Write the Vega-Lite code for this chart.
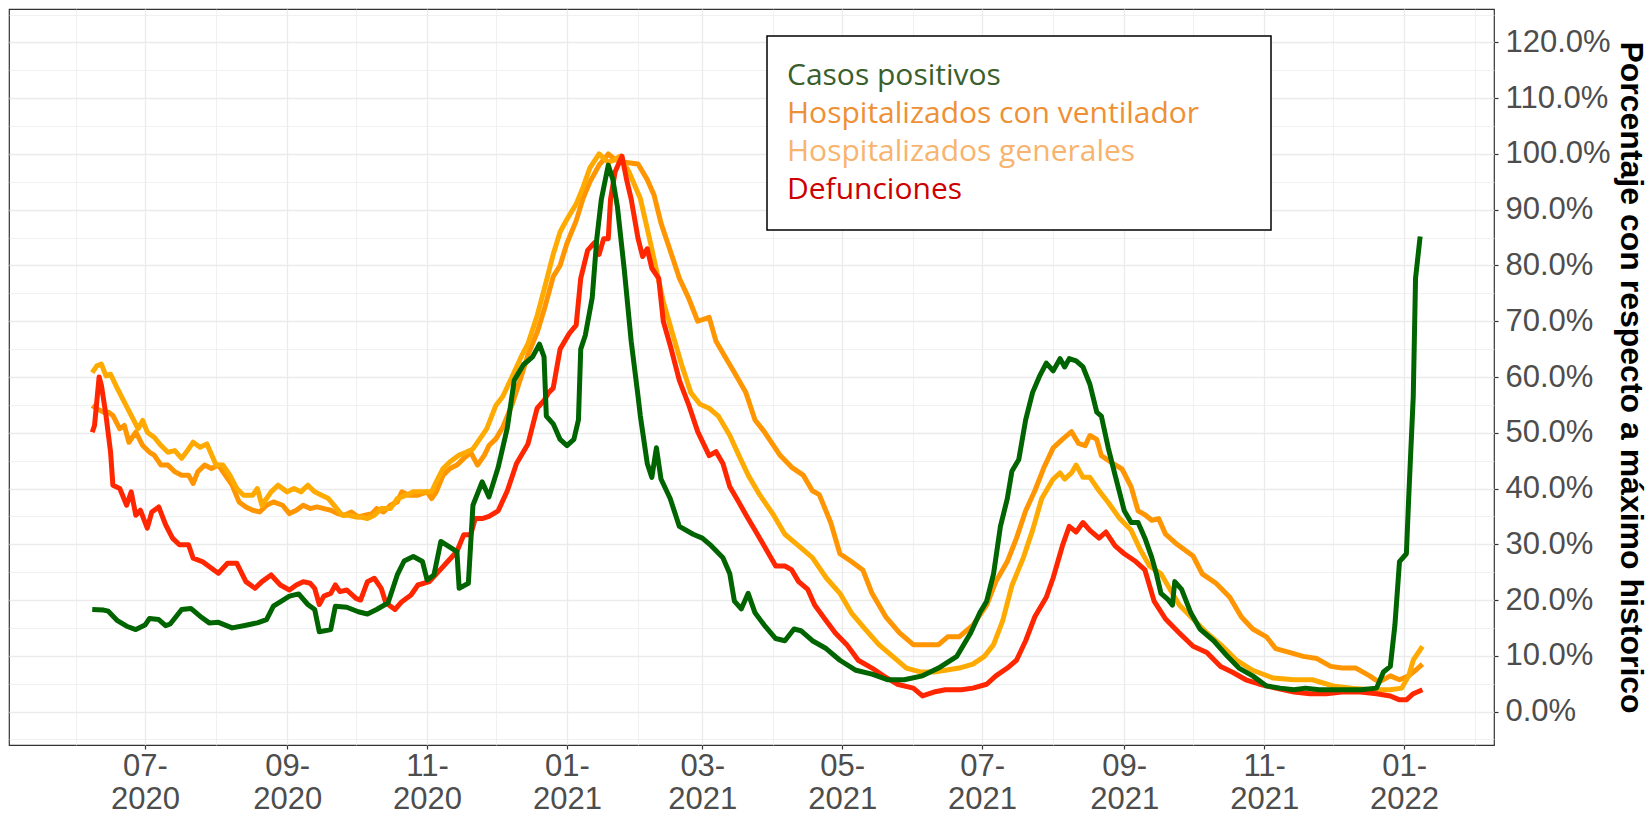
{
"$schema": "https://vega.github.io/schema/vega-lite/v6.json",
"width": 1485, "height": 736,
"autosize": {"type": "none"},
"padding": {"left": 9, "top": 9, "right": 155, "bottom": 73},
"background": "white",
"config": {"view": {"stroke": "#333333", "strokeWidth": 1.2}, "font": "Liberation Sans"},
"datasets": {
"V": [{"d":"2020-06-08","v":54.9},{"d":"2020-06-10","v":54.3},{"d":"2020-06-13","v":53.7},{"d":"2020-06-15","v":53.7},{"d":"2020-06-17","v":53.1},{"d":"2020-06-20","v":50.7},{"d":"2020-06-22","v":51.3},{"d":"2020-06-24","v":48.3},{"d":"2020-06-27","v":50.1},{"d":"2020-06-30","v":47.7},{"d":"2020-07-03","v":46.5},{"d":"2020-07-05","v":46.0},{"d":"2020-07-08","v":44.2},{"d":"2020-07-11","v":44.2},{"d":"2020-07-14","v":43.0},{"d":"2020-07-17","v":42.4},{"d":"2020-07-20","v":42.4},{"d":"2020-07-22","v":40.9},{"d":"2020-07-24","v":43.0},{"d":"2020-07-27","v":44.2},{"d":"2020-07-30","v":43.6},{"d":"2020-08-02","v":44.2},{"d":"2020-08-05","v":42.4},{"d":"2020-08-08","v":40.6},{"d":"2020-08-11","v":37.6},{"d":"2020-08-14","v":36.7},{"d":"2020-08-17","v":36.1},{"d":"2020-08-20","v":35.8},{"d":"2020-08-23","v":37.0},{"d":"2020-08-26","v":37.6},{"d":"2020-08-30","v":37.0},{"d":"2020-09-02","v":35.5},{"d":"2020-09-05","v":36.1},{"d":"2020-09-08","v":37.0},{"d":"2020-09-11","v":36.4},{"d":"2020-09-14","v":36.7},{"d":"2020-09-17","v":36.4},{"d":"2020-09-20","v":36.1},{"d":"2020-09-23","v":35.5},{"d":"2020-09-26","v":35.2},{"d":"2020-09-29","v":35.8},{"d":"2020-10-02","v":34.9},{"d":"2020-10-05","v":35.2},{"d":"2020-10-08","v":35.5},{"d":"2020-10-10","v":36.4},{"d":"2020-10-13","v":35.8},{"d":"2020-10-16","v":37.0},{"d":"2020-10-19","v":37.6},{"d":"2020-10-21","v":39.4},{"d":"2020-10-24","v":38.8},{"d":"2020-10-28","v":38.8},{"d":"2020-11-01","v":39.4},{"d":"2020-11-03","v":38.2},{"d":"2020-11-05","v":39.4},{"d":"2020-11-08","v":42.4},{"d":"2020-11-11","v":43.6},{"d":"2020-11-14","v":44.2},{"d":"2020-11-17","v":45.4},{"d":"2020-11-20","v":46.5},{"d":"2020-11-23","v":44.2},{"d":"2020-11-26","v":46.0},{"d":"2020-11-28","v":47.7},{"d":"2020-12-01","v":48.9},{"d":"2020-12-04","v":51.0},{"d":"2020-12-08","v":55.0},{"d":"2020-12-12","v":60.0},{"d":"2020-12-15","v":64.0},{"d":"2020-12-19","v":68.0},{"d":"2020-12-22","v":72.0},{"d":"2020-12-26","v":78.0},{"d":"2020-12-29","v":80.0},{"d":"2021-01-01","v":84.0},{"d":"2021-01-05","v":88.0},{"d":"2021-01-08","v":92.0},{"d":"2021-01-11","v":95.0},{"d":"2021-01-15","v":98.0},{"d":"2021-01-19","v":100.0},{"d":"2021-01-22","v":99.0},{"d":"2021-01-26","v":98.5},{"d":"2021-02-01","v":98.2},{"d":"2021-02-05","v":95.4},{"d":"2021-02-08","v":92.6},{"d":"2021-02-11","v":87.6},{"d":"2021-02-15","v":82.7},{"d":"2021-02-19","v":77.7},{"d":"2021-02-23","v":74.2},{"d":"2021-02-27","v":70.0},{"d":"2021-03-04","v":70.7},{"d":"2021-03-07","v":66.4},{"d":"2021-03-11","v":63.6},{"d":"2021-03-15","v":60.8},{"d":"2021-03-20","v":57.2},{"d":"2021-03-24","v":52.3},{"d":"2021-03-28","v":50.2},{"d":"2021-04-04","v":45.9},{"d":"2021-04-09","v":43.8},{"d":"2021-04-14","v":42.4},{"d":"2021-04-18","v":39.6},{"d":"2021-04-21","v":38.9},{"d":"2021-04-26","v":33.9},{"d":"2021-04-30","v":28.3},{"d":"2021-05-05","v":26.9},{"d":"2021-05-10","v":25.4},{"d":"2021-05-14","v":21.2},{"d":"2021-05-20","v":17.0},{"d":"2021-05-26","v":14.1},{"d":"2021-06-01","v":12.0},{"d":"2021-06-06","v":12.0},{"d":"2021-06-12","v":12.0},{"d":"2021-06-16","v":13.4},{"d":"2021-06-21","v":13.4},{"d":"2021-06-27","v":15.5},{"d":"2021-07-03","v":19.1},{"d":"2021-07-07","v":23.3},{"d":"2021-07-12","v":26.9},{"d":"2021-07-16","v":31.1},{"d":"2021-07-20","v":36.0},{"d":"2021-07-24","v":39.6},{"d":"2021-07-28","v":43.8},{"d":"2021-08-01","v":47.3},{"d":"2021-08-05","v":48.8},{"d":"2021-08-09","v":50.2},{"d":"2021-08-12","v":48.1},{"d":"2021-08-15","v":47.7},{"d":"2021-08-17","v":49.5},{"d":"2021-08-20","v":48.8},{"d":"2021-08-22","v":45.9},{"d":"2021-08-27","v":44.5},{"d":"2021-08-31","v":43.5},{"d":"2021-09-04","v":40.3},{"d":"2021-09-07","v":36.0},{"d":"2021-09-10","v":35.3},{"d":"2021-09-13","v":34.3},{"d":"2021-09-16","v":34.6},{"d":"2021-09-19","v":31.8},{"d":"2021-09-24","v":30.0},{"d":"2021-10-01","v":27.9},{"d":"2021-10-05","v":24.7},{"d":"2021-10-11","v":23.0},{"d":"2021-10-17","v":20.5},{"d":"2021-10-22","v":17.0},{"d":"2021-10-27","v":14.8},{"d":"2021-11-02","v":13.4},{"d":"2021-11-06","v":11.3},{"d":"2021-11-12","v":10.6},{"d":"2021-11-18","v":9.9},{"d":"2021-11-24","v":9.5},{"d":"2021-11-30","v":8.1},{"d":"2021-12-05","v":7.8},{"d":"2021-12-11","v":7.8},{"d":"2021-12-17","v":6.4},{"d":"2021-12-21","v":5.3},{"d":"2021-12-26","v":6.4},{"d":"2021-12-30","v":5.7},{"d":"2022-01-03","v":6.4},{"d":"2022-01-06","v":7.4},{"d":"2022-01-09","v":8.5}],
"G": [{"d":"2020-06-08","v":60.8},{"d":"2020-06-10","v":62.0},{"d":"2020-06-12","v":62.3},{"d":"2020-06-14","v":60.2},{"d":"2020-06-16","v":60.5},{"d":"2020-06-19","v":57.9},{"d":"2020-06-22","v":55.5},{"d":"2020-06-25","v":53.1},{"d":"2020-06-28","v":50.7},{"d":"2020-06-30","v":52.2},{"d":"2020-07-02","v":50.1},{"d":"2020-07-05","v":49.2},{"d":"2020-07-08","v":47.7},{"d":"2020-07-11","v":46.5},{"d":"2020-07-14","v":46.8},{"d":"2020-07-17","v":45.4},{"d":"2020-07-20","v":47.1},{"d":"2020-07-22","v":48.3},{"d":"2020-07-25","v":47.4},{"d":"2020-07-28","v":48.0},{"d":"2020-08-01","v":44.2},{"d":"2020-08-04","v":44.2},{"d":"2020-08-07","v":42.4},{"d":"2020-08-10","v":40.0},{"d":"2020-08-13","v":38.8},{"d":"2020-08-17","v":38.8},{"d":"2020-08-19","v":40.0},{"d":"2020-08-21","v":37.0},{"d":"2020-08-25","v":39.4},{"d":"2020-08-28","v":40.6},{"d":"2020-09-01","v":39.4},{"d":"2020-09-04","v":40.0},{"d":"2020-09-07","v":39.4},{"d":"2020-09-10","v":40.6},{"d":"2020-09-13","v":39.4},{"d":"2020-09-16","v":38.8},{"d":"2020-09-19","v":38.2},{"d":"2020-09-22","v":36.7},{"d":"2020-09-25","v":35.2},{"d":"2020-09-28","v":35.2},{"d":"2020-10-01","v":34.9},{"d":"2020-10-03","v":34.9},{"d":"2020-10-06","v":34.6},{"d":"2020-10-09","v":35.2},{"d":"2020-10-12","v":36.4},{"d":"2020-10-16","v":36.4},{"d":"2020-10-19","v":38.2},{"d":"2020-10-23","v":38.8},{"d":"2020-10-26","v":39.4},{"d":"2020-10-30","v":39.4},{"d":"2020-11-03","v":39.4},{"d":"2020-11-05","v":41.2},{"d":"2020-11-08","v":43.6},{"d":"2020-11-11","v":44.8},{"d":"2020-11-15","v":46.0},{"d":"2020-11-18","v":46.5},{"d":"2020-11-21","v":47.1},{"d":"2020-11-24","v":48.9},{"d":"2020-11-27","v":50.7},{"d":"2020-12-01","v":54.9},{"d":"2020-12-04","v":56.5},{"d":"2020-12-08","v":60.0},{"d":"2020-12-12","v":63.6},{"d":"2020-12-15","v":66.0},{"d":"2020-12-19","v":71.0},{"d":"2020-12-22","v":75.6},{"d":"2020-12-26","v":82.0},{"d":"2020-12-29","v":86.0},{"d":"2021-01-01","v":88.3},{"d":"2021-01-05","v":91.0},{"d":"2021-01-08","v":94.0},{"d":"2021-01-11","v":97.5},{"d":"2021-01-15","v":100.0},{"d":"2021-01-19","v":98.5},{"d":"2021-01-22","v":99.0},{"d":"2021-01-24","v":99.6},{"d":"2021-01-28","v":96.8},{"d":"2021-02-02","v":92.0},{"d":"2021-02-06","v":84.8},{"d":"2021-02-09","v":79.2},{"d":"2021-02-12","v":73.5},{"d":"2021-02-16","v":67.8},{"d":"2021-02-20","v":62.2},{"d":"2021-02-24","v":57.2},{"d":"2021-02-28","v":55.1},{"d":"2021-03-04","v":54.4},{"d":"2021-03-08","v":53.0},{"d":"2021-03-13","v":49.5},{"d":"2021-03-17","v":45.9},{"d":"2021-03-21","v":42.4},{"d":"2021-03-26","v":38.9},{"d":"2021-04-01","v":35.3},{"d":"2021-04-06","v":31.8},{"d":"2021-04-12","v":29.7},{"d":"2021-04-18","v":27.6},{"d":"2021-04-24","v":24.0},{"d":"2021-04-30","v":21.2},{"d":"2021-05-05","v":17.7},{"d":"2021-05-11","v":14.8},{"d":"2021-05-17","v":12.0},{"d":"2021-05-23","v":9.9},{"d":"2021-05-29","v":7.8},{"d":"2021-06-04","v":7.1},{"d":"2021-06-10","v":7.1},{"d":"2021-06-15","v":7.4},{"d":"2021-06-21","v":7.8},{"d":"2021-06-27","v":8.5},{"d":"2021-07-02","v":9.9},{"d":"2021-07-06","v":12.0},{"d":"2021-07-10","v":16.3},{"d":"2021-07-14","v":22.6},{"d":"2021-07-19","v":27.6},{"d":"2021-07-23","v":32.5},{"d":"2021-07-27","v":38.2},{"d":"2021-08-01","v":41.7},{"d":"2021-08-04","v":42.8},{"d":"2021-08-06","v":41.7},{"d":"2021-08-09","v":42.8},{"d":"2021-08-11","v":44.2},{"d":"2021-08-14","v":42.0},{"d":"2021-08-17","v":42.0},{"d":"2021-08-21","v":39.6},{"d":"2021-08-25","v":37.5},{"d":"2021-08-30","v":34.6},{"d":"2021-09-04","v":32.5},{"d":"2021-09-08","v":29.0},{"d":"2021-09-12","v":26.1},{"d":"2021-09-17","v":24.7},{"d":"2021-09-21","v":21.9},{"d":"2021-09-25","v":19.1},{"d":"2021-10-01","v":16.6},{"d":"2021-10-07","v":14.1},{"d":"2021-10-13","v":12.0},{"d":"2021-10-20","v":9.2},{"d":"2021-10-27","v":7.4},{"d":"2021-11-05","v":6.0},{"d":"2021-11-14","v":5.7},{"d":"2021-11-22","v":5.7},{"d":"2021-12-01","v":4.6},{"d":"2021-12-09","v":4.2},{"d":"2021-12-18","v":3.9},{"d":"2021-12-26","v":3.9},{"d":"2021-12-31","v":4.2},{"d":"2022-01-03","v":6.4},{"d":"2022-01-05","v":9.2},{"d":"2022-01-09","v":11.7}],
"D": [{"d":"2020-06-08","v":50.1},{"d":"2020-06-09","v":51.3},{"d":"2020-06-11","v":60.0},{"d":"2020-06-12","v":58.5},{"d":"2020-06-14","v":53.1},{"d":"2020-06-16","v":46.5},{"d":"2020-06-17","v":40.6},{"d":"2020-06-20","v":40.0},{"d":"2020-06-23","v":37.0},{"d":"2020-06-25","v":39.4},{"d":"2020-06-27","v":35.2},{"d":"2020-06-29","v":36.1},{"d":"2020-07-02","v":32.9},{"d":"2020-07-04","v":35.8},{"d":"2020-07-07","v":36.7},{"d":"2020-07-10","v":33.5},{"d":"2020-07-13","v":31.1},{"d":"2020-07-16","v":29.9},{"d":"2020-07-20","v":29.9},{"d":"2020-07-22","v":27.5},{"d":"2020-07-26","v":26.9},{"d":"2020-07-30","v":25.7},{"d":"2020-08-02","v":24.8},{"d":"2020-08-06","v":26.6},{"d":"2020-08-10","v":26.6},{"d":"2020-08-14","v":23.3},{"d":"2020-08-18","v":22.1},{"d":"2020-08-21","v":23.3},{"d":"2020-08-25","v":24.5},{"d":"2020-08-29","v":22.7},{"d":"2020-09-02","v":21.8},{"d":"2020-09-05","v":22.7},{"d":"2020-09-08","v":23.3},{"d":"2020-09-11","v":23.0},{"d":"2020-09-13","v":22.1},{"d":"2020-09-15","v":19.2},{"d":"2020-09-17","v":20.7},{"d":"2020-09-20","v":21.2},{"d":"2020-09-22","v":22.7},{"d":"2020-09-24","v":21.5},{"d":"2020-09-27","v":21.8},{"d":"2020-10-01","v":20.3},{"d":"2020-10-03","v":20.0},{"d":"2020-10-06","v":23.3},{"d":"2020-10-09","v":23.9},{"d":"2020-10-12","v":22.1},{"d":"2020-10-14","v":19.5},{"d":"2020-10-18","v":18.3},{"d":"2020-10-21","v":19.7},{"d":"2020-10-25","v":20.9},{"d":"2020-10-28","v":22.7},{"d":"2020-11-02","v":23.3},{"d":"2020-11-06","v":25.1},{"d":"2020-11-10","v":26.9},{"d":"2020-11-14","v":28.7},{"d":"2020-11-17","v":31.7},{"d":"2020-11-20","v":31.7},{"d":"2020-11-22","v":34.6},{"d":"2020-11-25","v":34.6},{"d":"2020-11-28","v":35.0},{"d":"2020-12-02","v":36.0},{"d":"2020-12-06","v":39.6},{"d":"2020-12-10","v":44.5},{"d":"2020-12-15","v":48.0},{"d":"2020-12-19","v":54.4},{"d":"2020-12-22","v":55.8},{"d":"2020-12-24","v":57.2},{"d":"2020-12-26","v":58.0},{"d":"2020-12-29","v":65.0},{"d":"2021-01-02","v":67.8},{"d":"2021-01-05","v":69.3},{"d":"2021-01-07","v":77.7},{"d":"2021-01-10","v":82.7},{"d":"2021-01-13","v":84.1},{"d":"2021-01-15","v":82.0},{"d":"2021-01-17","v":84.8},{"d":"2021-01-19","v":84.8},{"d":"2021-01-20","v":91.9},{"d":"2021-01-22","v":96.8},{"d":"2021-01-25","v":99.6},{"d":"2021-01-27","v":95.4},{"d":"2021-01-29","v":91.9},{"d":"2021-02-01","v":84.8},{"d":"2021-02-03","v":81.6},{"d":"2021-02-05","v":83.0},{"d":"2021-02-07","v":79.5},{"d":"2021-02-10","v":77.7},{"d":"2021-02-12","v":70.0},{"d":"2021-02-15","v":65.7},{"d":"2021-02-19","v":59.4},{"d":"2021-02-23","v":55.1},{"d":"2021-02-27","v":50.2},{"d":"2021-03-04","v":45.9},{"d":"2021-03-07","v":46.6},{"d":"2021-03-10","v":44.5},{"d":"2021-03-13","v":40.3},{"d":"2021-03-17","v":37.5},{"d":"2021-03-20","v":35.3},{"d":"2021-03-24","v":32.5},{"d":"2021-03-28","v":29.7},{"d":"2021-04-02","v":26.1},{"d":"2021-04-06","v":26.1},{"d":"2021-04-09","v":25.4},{"d":"2021-04-12","v":23.3},{"d":"2021-04-16","v":21.9},{"d":"2021-04-19","v":19.1},{"d":"2021-04-24","v":16.3},{"d":"2021-04-28","v":14.1},{"d":"2021-05-03","v":12.0},{"d":"2021-05-08","v":9.2},{"d":"2021-05-14","v":7.8},{"d":"2021-05-19","v":6.4},{"d":"2021-05-25","v":4.9},{"d":"2021-06-01","v":4.2},{"d":"2021-06-05","v":2.8},{"d":"2021-06-10","v":3.5},{"d":"2021-06-15","v":3.9},{"d":"2021-06-22","v":3.9},{"d":"2021-06-27","v":4.2},{"d":"2021-07-03","v":4.9},{"d":"2021-07-07","v":6.4},{"d":"2021-07-12","v":7.8},{"d":"2021-07-16","v":9.2},{"d":"2021-07-20","v":12.7},{"d":"2021-07-24","v":17.0},{"d":"2021-07-29","v":20.5},{"d":"2021-08-01","v":24.0},{"d":"2021-08-05","v":29.7},{"d":"2021-08-08","v":33.2},{"d":"2021-08-11","v":32.2},{"d":"2021-08-14","v":33.9},{"d":"2021-08-17","v":32.5},{"d":"2021-08-21","v":31.1},{"d":"2021-08-24","v":32.2},{"d":"2021-08-28","v":29.7},{"d":"2021-09-01","v":28.3},{"d":"2021-09-06","v":26.9},{"d":"2021-09-10","v":25.4},{"d":"2021-09-14","v":19.8},{"d":"2021-09-19","v":16.6},{"d":"2021-09-25","v":14.1},{"d":"2021-10-01","v":11.7},{"d":"2021-10-07","v":10.6},{"d":"2021-10-13","v":8.1},{"d":"2021-10-18","v":7.1},{"d":"2021-10-24","v":5.7},{"d":"2021-10-30","v":4.9},{"d":"2021-11-06","v":4.2},{"d":"2021-11-14","v":3.5},{"d":"2021-11-21","v":3.2},{"d":"2021-11-28","v":3.2},{"d":"2021-12-05","v":3.5},{"d":"2021-12-13","v":3.5},{"d":"2021-12-20","v":3.2},{"d":"2021-12-26","v":2.8},{"d":"2021-12-30","v":2.1},{"d":"2022-01-02","v":2.1},{"d":"2022-01-05","v":3.2},{"d":"2022-01-09","v":3.9}],
"C": [{"d":"2020-06-08","v":18.3},{"d":"2020-06-13","v":18.2},{"d":"2020-06-15","v":18.0},{"d":"2020-06-19","v":16.3},{"d":"2020-06-23","v":15.3},{"d":"2020-06-27","v":14.7},{"d":"2020-07-01","v":15.5},{"d":"2020-07-03","v":16.7},{"d":"2020-07-07","v":16.5},{"d":"2020-07-10","v":15.4},{"d":"2020-07-12","v":15.7},{"d":"2020-07-17","v":18.3},{"d":"2020-07-21","v":18.5},{"d":"2020-07-25","v":17.1},{"d":"2020-07-29","v":15.9},{"d":"2020-08-02","v":16.0},{"d":"2020-08-08","v":15.0},{"d":"2020-08-13","v":15.4},{"d":"2020-08-19","v":15.9},{"d":"2020-08-23","v":16.5},{"d":"2020-08-26","v":18.9},{"d":"2020-09-02","v":20.7},{"d":"2020-09-06","v":21.1},{"d":"2020-09-10","v":19.2},{"d":"2020-09-13","v":18.3},{"d":"2020-09-15","v":14.3},{"d":"2020-09-20","v":14.7},{"d":"2020-09-22","v":18.9},{"d":"2020-09-27","v":18.7},{"d":"2020-10-02","v":17.9},{"d":"2020-10-06","v":17.5},{"d":"2020-10-10","v":18.3},{"d":"2020-10-15","v":19.5},{"d":"2020-10-19","v":24.5},{"d":"2020-10-22","v":27.0},{"d":"2020-10-26","v":27.8},{"d":"2020-10-30","v":26.9},{"d":"2020-11-01","v":23.6},{"d":"2020-11-04","v":24.5},{"d":"2020-11-07","v":30.5},{"d":"2020-11-14","v":28.7},{"d":"2020-11-15","v":22.1},{"d":"2020-11-19","v":23.0},{"d":"2020-11-21","v":37.0},{"d":"2020-11-25","v":41.2},{"d":"2020-11-28","v":38.5},{"d":"2020-12-02","v":43.8},{"d":"2020-12-06","v":50.9},{"d":"2020-12-09","v":59.4},{"d":"2020-12-13","v":62.2},{"d":"2020-12-17","v":63.6},{"d":"2020-12-20","v":65.9},{"d":"2020-12-22","v":63.6},{"d":"2020-12-23","v":53.0},{"d":"2020-12-26","v":51.6},{"d":"2020-12-29","v":48.8},{"d":"2021-01-01","v":47.7},{"d":"2021-01-04","v":48.8},{"d":"2021-01-06","v":52.3},{"d":"2021-01-07","v":65.0},{"d":"2021-01-09","v":67.5},{"d":"2021-01-12","v":74.2},{"d":"2021-01-14","v":84.8},{"d":"2021-01-16","v":91.9},{"d":"2021-01-19","v":98.0},{"d":"2021-01-21","v":95.4},{"d":"2021-01-23","v":90.5},{"d":"2021-01-26","v":79.2},{"d":"2021-01-29","v":66.4},{"d":"2021-02-01","v":56.5},{"d":"2021-02-02","v":53.0},{"d":"2021-02-05","v":44.5},{"d":"2021-02-07","v":42.0},{"d":"2021-02-09","v":47.3},{"d":"2021-02-11","v":41.7},{"d":"2021-02-15","v":38.2},{"d":"2021-02-19","v":33.2},{"d":"2021-02-25","v":31.8},{"d":"2021-03-01","v":31.1},{"d":"2021-03-05","v":29.7},{"d":"2021-03-10","v":27.6},{"d":"2021-03-13","v":24.7},{"d":"2021-03-15","v":19.8},{"d":"2021-03-18","v":18.4},{"d":"2021-03-21","v":21.2},{"d":"2021-03-24","v":17.7},{"d":"2021-03-28","v":15.5},{"d":"2021-04-02","v":13.1},{"d":"2021-04-06","v":12.7},{"d":"2021-04-10","v":14.8},{"d":"2021-04-13","v":14.5},{"d":"2021-04-18","v":12.7},{"d":"2021-04-24","v":11.3},{"d":"2021-04-30","v":9.2},{"d":"2021-05-07","v":7.4},{"d":"2021-05-14","v":6.7},{"d":"2021-05-21","v":5.7},{"d":"2021-05-28","v":5.7},{"d":"2021-06-05","v":6.4},{"d":"2021-06-12","v":7.8},{"d":"2021-06-20","v":9.9},{"d":"2021-06-26","v":14.1},{"d":"2021-06-30","v":17.7},{"d":"2021-07-03","v":19.8},{"d":"2021-07-06","v":24.7},{"d":"2021-07-09","v":33.2},{"d":"2021-07-12","v":38.2},{"d":"2021-07-14","v":43.1},{"d":"2021-07-17","v":45.2},{"d":"2021-07-20","v":52.3},{"d":"2021-07-23","v":57.2},{"d":"2021-07-26","v":60.1},{"d":"2021-07-29","v":62.5},{"d":"2021-08-01","v":61.1},{"d":"2021-08-04","v":63.3},{"d":"2021-08-06","v":61.8},{"d":"2021-08-08","v":63.3},{"d":"2021-08-11","v":62.9},{"d":"2021-08-14","v":61.8},{"d":"2021-08-17","v":58.7},{"d":"2021-08-20","v":53.7},{"d":"2021-08-22","v":53.0},{"d":"2021-08-25","v":47.3},{"d":"2021-08-28","v":42.4},{"d":"2021-09-01","v":36.0},{"d":"2021-09-04","v":33.9},{"d":"2021-09-07","v":33.9},{"d":"2021-09-10","v":31.1},{"d":"2021-09-13","v":27.6},{"d":"2021-09-15","v":24.7},{"d":"2021-09-17","v":21.2},{"d":"2021-09-20","v":20.1},{"d":"2021-09-22","v":19.1},{"d":"2021-09-23","v":23.3},{"d":"2021-09-26","v":21.9},{"d":"2021-09-30","v":17.7},{"d":"2021-10-04","v":14.8},{"d":"2021-10-10","v":12.7},{"d":"2021-10-16","v":9.9},{"d":"2021-10-21","v":7.8},{"d":"2021-10-27","v":6.4},{"d":"2021-11-02","v":4.6},{"d":"2021-11-08","v":4.2},{"d":"2021-11-14","v":3.9},{"d":"2021-11-19","v":4.2},{"d":"2021-11-25","v":3.9},{"d":"2021-12-01","v":3.9},{"d":"2021-12-07","v":3.9},{"d":"2021-12-13","v":3.9},{"d":"2021-12-20","v":4.2},{"d":"2021-12-23","v":7.1},{"d":"2021-12-26","v":8.1},{"d":"2021-12-28","v":15.5},{"d":"2021-12-30","v":26.9},{"d":"2022-01-02","v":28.3},{"d":"2022-01-03","v":38.2},{"d":"2022-01-05","v":56.5},{"d":"2022-01-06","v":77.7},{"d":"2022-01-08","v":85.2}]
},
"layer": [
 {"data": {"name": "V"}, "transform": [{"calculate": "'Hospitalizados con ventilador'", "as": "s"}],
  "mark": {"type": "line", "strokeWidth": 5, "strokeJoin": "round", "clip": true}},
 {"data": {"name": "G"}, "transform": [{"calculate": "'Hospitalizados generales'", "as": "s"}],
  "mark": {"type": "line", "strokeWidth": 5, "strokeJoin": "round", "clip": true}},
 {"data": {"name": "D"}, "transform": [{"calculate": "'Defunciones'", "as": "s"}],
  "mark": {"type": "line", "strokeWidth": 5, "strokeJoin": "round", "clip": true}},
 {"data": {"name": "C"}, "transform": [{"calculate": "'Casos positivos'", "as": "s"}],
  "mark": {"type": "line", "strokeWidth": 5, "strokeJoin": "round", "clip": true}}
],
"encoding": {
 "x": {"field": "d", "type": "temporal",
  "scale": {"type": "utc", "domain": [{"year": 2020, "month": 5, "date": 2, "hours": 17, "utc": true}, {"year": 2022, "month": 2, "date": 9, "hours": 5, "utc": true}]},
  "axis": {"title": null, "domain": false,
   "values": [{"year":2020,"month":6,"date":1,"utc":true},{"year":2020,"month":7,"date":1,"utc":true},{"year":2020,"month":8,"date":1,"utc":true},{"year":2020,"month":9,"date":1,"utc":true},{"year":2020,"month":10,"date":1,"utc":true},{"year":2020,"month":11,"date":1,"utc":true},{"year":2020,"month":12,"date":1,"utc":true},{"year":2021,"month":1,"date":1,"utc":true},{"year":2021,"month":2,"date":1,"utc":true},{"year":2021,"month":3,"date":1,"utc":true},{"year":2021,"month":4,"date":1,"utc":true},{"year":2021,"month":5,"date":1,"utc":true},{"year":2021,"month":6,"date":1,"utc":true},{"year":2021,"month":7,"date":1,"utc":true},{"year":2021,"month":8,"date":1,"utc":true},{"year":2021,"month":9,"date":1,"utc":true},{"year":2021,"month":10,"date":1,"utc":true},{"year":2021,"month":11,"date":1,"utc":true},{"year":2021,"month":12,"date":1,"utc":true},{"year":2022,"month":1,"date":1,"utc":true},{"year":2022,"month":2,"date":1,"utc":true}],
   "grid": true, "gridColor": "#ebebeb",
   "gridWidth": {"condition": {"test": "utcmonth(datum.value) % 2 == 0", "value": 1.3}, "value": 0.7},
   "tickOpacity": {"condition": {"test": "utcmonth(datum.value) % 2 == 0", "value": 1}, "value": 0},
   "tickColor": "#333333", "tickSize": 4, "tickWidth": 1.2,
   "labelExpr": "utcmonth(datum.value) % 2 == 0 ? [utcFormat(datum.value, '%m-'), utcFormat(datum.value, '%Y')] : ''",
   "labelFont": "Liberation Sans", "labelFontSize": 31, "labelColor": "#4d4d4d", "labelLineHeight": 33, "labelPadding": 2,
   "labelOverlap": false, "labelFlush": false, "labelBound": false}},
 "y": {"field": "v", "type": "quantitative",
  "scale": {"domain": [-6, 126], "nice": false, "zero": false},
  "axis": {"orient": "right", "domain": false,
   "values": [-5, 0, 5, 10, 15, 20, 25, 30, 35, 40, 45, 50, 55, 60, 65, 70, 75, 80, 85, 90, 95, 100, 105, 110, 115, 120, 125],
   "grid": true, "gridColor": "#ebebeb",
   "gridWidth": {"condition": {"test": "datum.value % 10 == 0", "value": 1.3}, "value": 0.7},
   "tickOpacity": {"condition": {"test": "datum.value % 10 == 0 && datum.value >= 0", "value": 1}, "value": 0},
   "tickColor": "#333333", "tickSize": 4, "tickWidth": 1.2,
   "labelExpr": "datum.value % 10 == 0 && datum.value >= 0 ? format(datum.value, '.1f') + '%' : ''",
   "labelFont": "Liberation Sans", "labelFontSize": 31, "labelColor": "#4d4d4d", "labelPadding": 7,
   "labelOverlap": false, "labelFlush": false, "labelBound": false,
   "title": "Porcentaje con respecto a máximo historico", "titleFont": "Liberation Sans", "titleFontSize": 32,
   "titleFontWeight": "bold", "titleColor": "#000000", "titlePadding": 3}},
 "color": {"field": "s", "type": "nominal",
  "scale": {"domain": ["Casos positivos", "Hospitalizados con ventilador", "Hospitalizados generales", "Defunciones"],
   "range": ["#006400", "#FF9500", "#FFAA00", "#FF2600"]},
  "legend": {"orient": "none", "legendX": 758, "legendY": 27, "direction": "vertical",
   "title": "\u00a0", "titleOrient": "right", "titlePadding": 47, "titleFontSize": 2,
   "fillColor": "white", "strokeColor": "black", "padding": 25,
   "labelFont": "Open Sans", "labelFontSize": 30, "labelLimit": 800, "labelOffset": -35,
   "symbolType": "circle", "symbolSize": 1, "symbolOpacity": 0, "symbolStrokeWidth": 0, "rowPadding": 8,
   "encode": {"labels": {"update": {"fill": {"signal": "datum.value === 'Casos positivos' ? '#3a5e2c' : datum.value === 'Hospitalizados con ventilador' ? '#ee9035' : datum.value === 'Hospitalizados generales' ? '#f8b46e' : '#cc0000'"}}},
    "legend": {"update": {"strokeWidth": {"value": 1.5}}}}}}
}
}
